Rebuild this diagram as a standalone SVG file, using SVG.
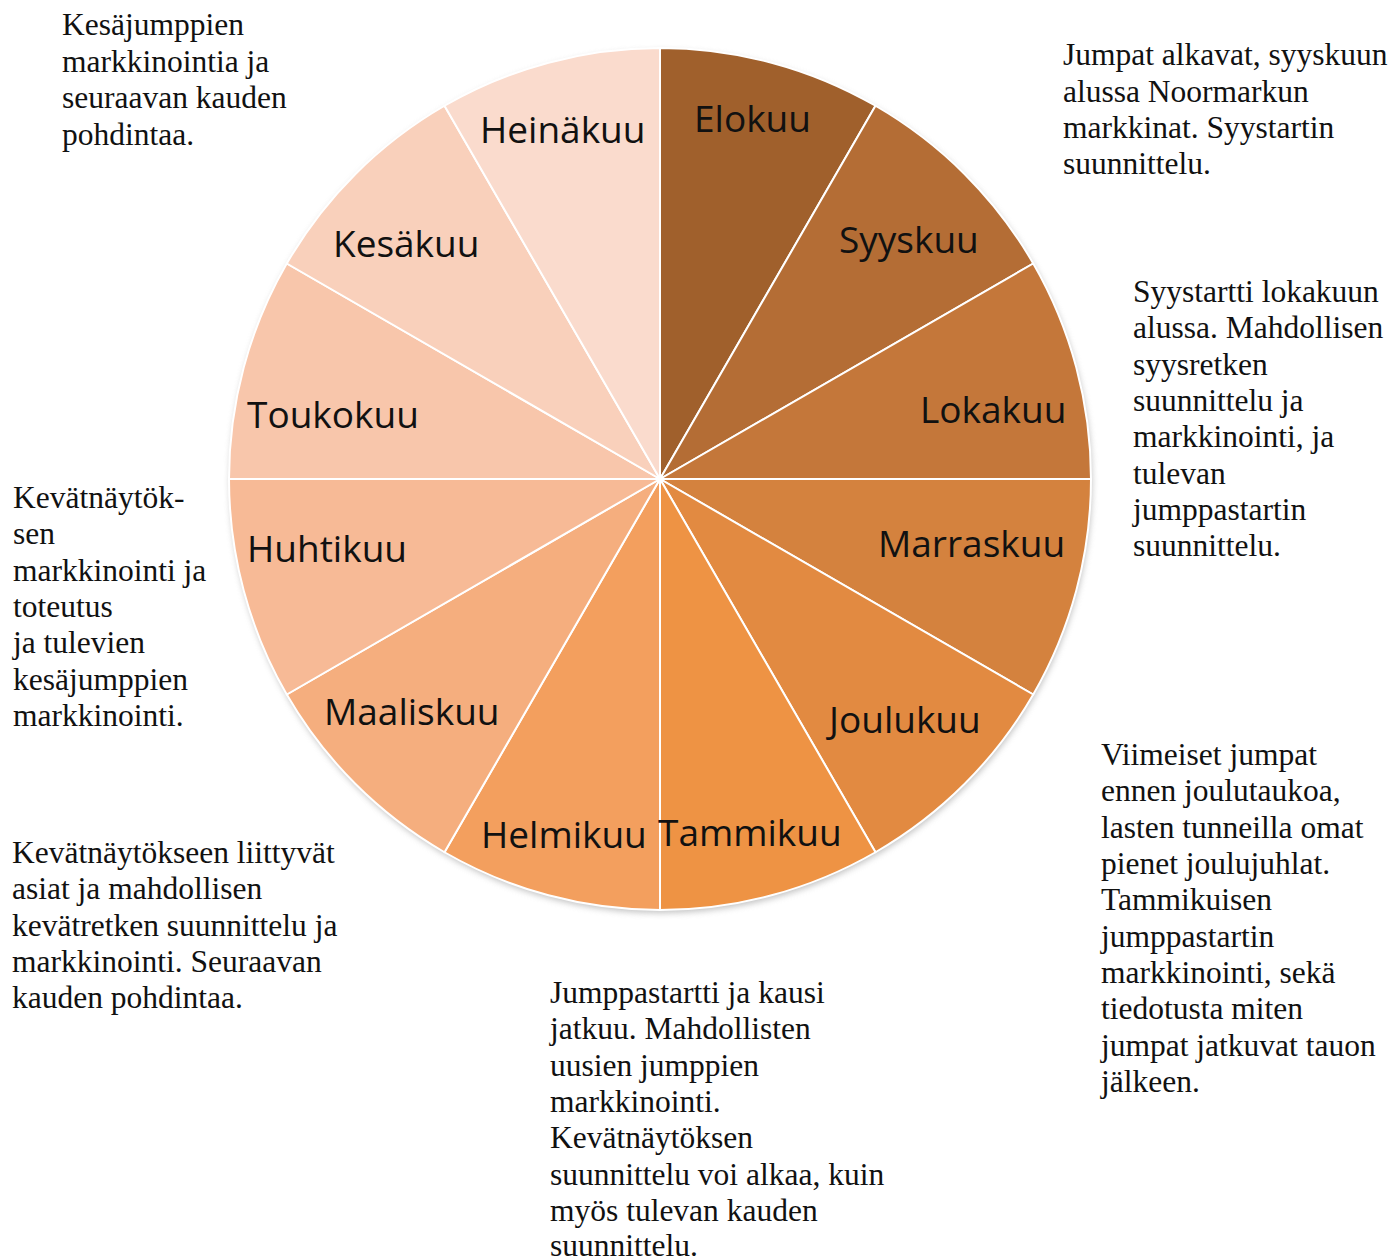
<svg xmlns="http://www.w3.org/2000/svg" width="1395" height="1258" viewBox="0 0 1395 1258">
<style>
.sl{stroke:#FFFFFF;stroke-width:2;stroke-linejoin:round}
.lab{font-family:"Open Sans","Noto Sans",sans-serif;font-size:37px;fill:#111111}
.ann{font-family:"Liberation Serif","Times New Roman",serif;font-size:31.5px;fill:#111111}
</style>
<defs>
<filter id="sh" x="-10%" y="-10%" width="120%" height="120%">
<feGaussianBlur stdDeviation="3"/>
</filter>
</defs>
<rect width="1395" height="1258" fill="#FFFFFF"/>
<circle cx="661" cy="482" r="431" fill="#9a9a9a" opacity="0.6" filter="url(#sh)"/>
<g id="pie">
<g id="elokuu"><path class="sl" fill="#A0602C" d="M660,479 L660,48 A431,431 0 0 1 875.5,105.75 Z"/><text class="lab" x="694" y="132">Elokuu</text></g>
<g id="syyskuu"><path class="sl" fill="#B46D35" d="M660,479 L875.5,105.75 A431,431 0 0 1 1033.25,263.5 Z"/><text class="lab" x="839" y="253">Syyskuu</text></g>
<g id="lokakuu"><path class="sl" fill="#C4773A" d="M660,479 L1033.25,263.5 A431,431 0 0 1 1091,479 Z"/><text class="lab" x="920" y="423">Lokakuu</text></g>
<g id="marraskuu"><path class="sl" fill="#D4823E" d="M660,479 L1091,479 A431,431 0 0 1 1033.25,694.5 Z"/><text class="lab" x="878" y="557">Marraskuu</text></g>
<g id="joulukuu"><path class="sl" fill="#E28A41" d="M660,479 L1033.25,694.5 A431,431 0 0 1 875.5,852.25 Z"/><text class="lab" x="829" y="733">Joulukuu</text></g>
<g id="tammikuu"><path class="sl" fill="#EE9344" d="M660,479 L875.5,852.25 A431,431 0 0 1 660,910 Z"/></g>
<g id="helmikuu"><path class="sl" fill="#F39F5E" d="M660,479 L660,910 A431,431 0 0 1 444.5,852.25 Z"/><text class="lab" x="481" y="848">Helmikuu</text></g>
<g id="maaliskuu"><path class="sl" fill="#F5AE7E" d="M660,479 L444.5,852.25 A431,431 0 0 1 286.75,694.5 Z"/><text class="lab" x="324" y="725">Maaliskuu</text></g>
<g id="huhtikuu"><path class="sl" fill="#F7BA96" d="M660,479 L286.75,694.5 A431,431 0 0 1 229,479 Z"/><text class="lab" x="247" y="562">Huhtikuu</text></g>
<g id="toukokuu"><path class="sl" fill="#F8C6AB" d="M660,479 L229,479 A431,431 0 0 1 286.75,263.5 Z"/><text class="lab" x="247" y="428">Toukokuu</text></g>
<g id="kesakuu"><path class="sl" fill="#F9D0BB" d="M660,479 L286.75,263.5 A431,431 0 0 1 444.5,105.75 Z"/><text class="lab" x="333" y="257">Kesäkuu</text></g>
<g id="heinakuu"><path class="sl" fill="#FADBCD" d="M660,479 L444.5,105.75 A431,431 0 0 1 660,48 Z"/><text class="lab" x="480" y="143">Heinäkuu</text></g>
<text class="lab" x="658" y="846">Tammikuu</text>
</g>
<g id="notes">
<g id="note-heinakuu"><text class="ann" x="62" y="35">Kesäjumppien</text><text class="ann" x="62" y="72">markkinointia ja</text><text class="ann" x="62" y="108">seuraavan kauden</text><text class="ann" x="62" y="145">pohdintaa.</text></g>
<g id="note-elokuu"><text class="ann" x="1063" y="65">Jumpat alkavat, syyskuun</text><text class="ann" x="1063" y="102">alussa Noormarkun</text><text class="ann" x="1063" y="138">markkinat. Syystartin</text><text class="ann" x="1063" y="174">suunnittelu.</text></g>
<g id="note-syyskuu"><text class="ann" x="1133" y="302">Syystartti lokakuun</text><text class="ann" x="1133" y="338">alussa. Mahdollisen</text><text class="ann" x="1133" y="375">syysretken</text><text class="ann" x="1133" y="411">suunnittelu ja</text><text class="ann" x="1133" y="447">markkinointi, ja</text><text class="ann" x="1133" y="484">tulevan</text><text class="ann" x="1133" y="520">jumppastartin</text><text class="ann" x="1133" y="556">suunnittelu.</text></g>
<g id="note-joulukuu"><text class="ann" x="1101" y="765">Viimeiset jumpat</text><text class="ann" x="1101" y="801">ennen joulutaukoa,</text><text class="ann" x="1101" y="838">lasten tunneilla omat</text><text class="ann" x="1101" y="874">pienet joulujuhlat.</text><text class="ann" x="1101" y="910">Tammikuisen</text><text class="ann" x="1101" y="947">jumppastartin</text><text class="ann" x="1101" y="983">markkinointi, sekä</text><text class="ann" x="1101" y="1019">tiedotusta miten</text><text class="ann" x="1101" y="1056">jumpat jatkuvat tauon</text><text class="ann" x="1101" y="1092">jälkeen.</text></g>
<g id="note-tammikuu"><text class="ann" x="550" y="1003">Jumppastartti ja kausi</text><text class="ann" x="550" y="1039">jatkuu. Mahdollisten</text><text class="ann" x="550" y="1076">uusien jumppien</text><text class="ann" x="550" y="1112">markkinointi.</text><text class="ann" x="550" y="1148">Kevätnäytöksen</text><text class="ann" x="550" y="1185">suunnittelu voi alkaa, kuin</text><text class="ann" x="550" y="1221">myös tulevan kauden</text><text class="ann" x="550" y="1256">suunnittelu.</text></g>
<g id="note-huhtikuu"><text class="ann" x="13" y="508">Kevätnäytök-</text><text class="ann" x="13" y="544">sen</text><text class="ann" x="13" y="581">markkinointi ja</text><text class="ann" x="13" y="617">toteutus</text><text class="ann" x="13" y="653">ja tulevien</text><text class="ann" x="13" y="690">kesäjumppien</text><text class="ann" x="13" y="726">markkinointi.</text></g>
<g id="note-maaliskuu"><text class="ann" x="12" y="863">Kevätnäytökseen liittyvät</text><text class="ann" x="12" y="899">asiat ja mahdollisen</text><text class="ann" x="12" y="936">kevätretken suunnittelu ja</text><text class="ann" x="12" y="972">markkinointi. Seuraavan</text><text class="ann" x="12" y="1008">kauden pohdintaa.</text></g>
</g>
</svg>
